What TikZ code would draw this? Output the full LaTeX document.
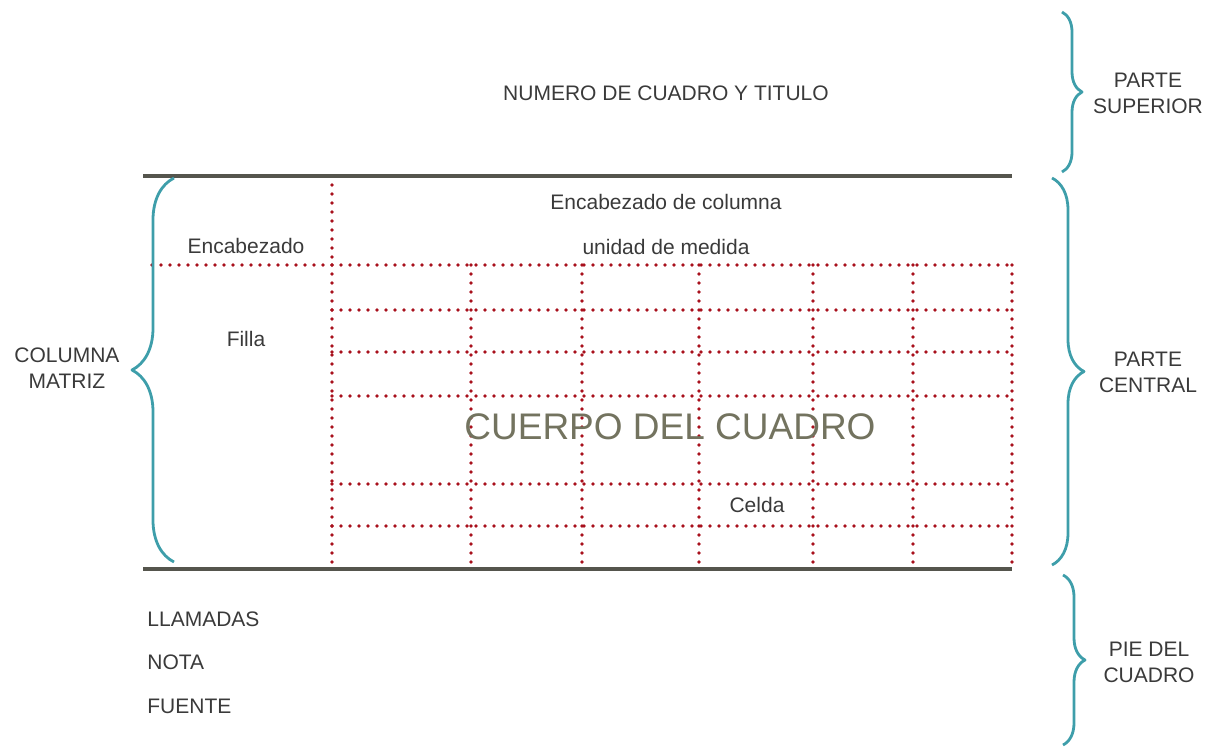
\documentclass[tikz,border=0pt]{standalone}
\usepackage{fontspec}
\setmainfont{Liberation Sans}
\usetikzlibrary{decorations.pathreplacing}
\definecolor{celda}{HTML}{A8101C}
\definecolor{regla}{HTML}{55554D}
\definecolor{llave}{HTML}{3E9EAA}
\definecolor{cuerpo}{HTML}{73735F}
\definecolor{texto}{HTML}{3A3A3A}
\begin{document}
\begin{tikzpicture}[x=0.5pt,y=-0.5pt,line join=round]
	\tikzset{punteado/.style={draw=celda,line width=1.9pt,line cap=round,dash pattern=on 0pt off 4.5pt},
		regla/.style={draw=regla,line width=1.7pt},
		llave/.style={draw=llave,line width=1.4pt,decorate,decoration={brace,amplitude=#1}},
		rotulo/.style={font=\fontsize{10.5}{13}\selectfont,text=texto,align=center,inner sep=0pt}}
	\useasboundingbox (0,0) rectangle (1214,749);
	% rejilla del cuadro
	\foreach \x in {332,471,582,699,813,913,1012}
		\draw[punteado] (\x,265) -- (\x,569);
	\draw[punteado] (332,176) -- (332,265);
	\draw[punteado] (152,265) -- (1012,265);
	\foreach \y in {310,352,396,484,526}
		\draw[punteado] (332,\y) -- (1012,\y);
	\draw[regla] (143,176) -- (1012,176);
	\draw[regla] (143,569) -- (1012,569);
	% llaves
	\draw[llave=10pt] (1062,12) -- (1062,172);
	\draw[llave=16pt] (1052,178) -- (1052,565);
	\draw[llave=11pt] (1063,575) -- (1063,745);
	\draw[llave=21pt] (174,562) -- (174,178);
	% textos
	\node[rotulo] (titulo) at (666,93) {NUMERO DE CUADRO Y TITULO};
	\node[rotulo] (superior) at (1148,93) {PARTE\\SUPERIOR};
	\node[rotulo] (enccol) at (666,202) {Encabezado de columna};
	\node[rotulo] (unidad) at (666,247) {unidad de medida};
	\node[rotulo] (encab) at (246,246) {Encabezado};
	\node[rotulo] (filla) at (246,339) {Filla};
	\node[rotulo] (matriz) at (67,368) {COLUMNA\\MATRIZ};
	\node[rotulo] (central) at (1148,372) {PARTE\\CENTRAL};
	\node[font=\fontsize{18.5}{20}\selectfont,text=cuerpo,inner sep=0pt] (cuerpo) at (670,427) {CUERPO DEL CUADRO};
	\node[rotulo] (celda) at (757,505) {Celda};
	\node[rotulo,anchor=west] (llamadas) at (147,619) {LLAMADAS};
	\node[rotulo,anchor=west] (nota) at (147,662) {NOTA};
	\node[rotulo,anchor=west] (fuente) at (147,706) {FUENTE};
	\node[rotulo] (pie) at (1149,662) {PIE DEL\\CUADRO};
\end{tikzpicture}
\end{document}
